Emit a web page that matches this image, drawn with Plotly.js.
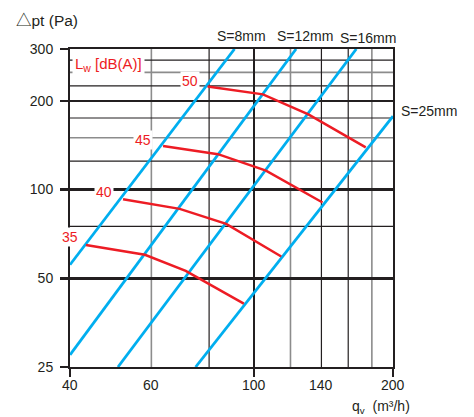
<!DOCTYPE html>
<html><head><meta charset="utf-8">
<script src="https://cdn.plot.ly/plotly-3.0.1.min.js"></script>
<style>html,body{margin:0;padding:0;background:#fff}#chart{width:474px;height:417px}</style>
</head><body><div id="chart"></div>
<script>
// ---- data ----
const xTickVals = [40, 60, 100, 140, 200];
const xTickText = ['40', '60', '100', '140', '200'];
const yTickVals = [25, 50, 100, 200, 300];
const yTickText = ['25', '50', '100', '200', '300'];
const xMajor = [40, 100, 200];
const xGridDark = [80, 140, 160];
const xGridGray = [60, 120, 180];
const yGridDark = [75, 125, 175, 225, 275];
const yGridGray = [150, 250];

// blade setting lines S (Δpt vs qv)
const sLabels = ['S=8mm', 'S=12mm', 'S=16mm', 'S=25mm'];
const s8Q = [40, 90.8],   s8P = [55.6, 300];
const s12Q = [40, 123.4], s12P = [27.5, 300];
const s16Q = [50.8, 166.6], s16P = [25, 300];
const s25Q = [74.8, 200], s25P = [25, 177.5];

// sound power level curves Lw [dB(A)]
const lwLabels = ['35', '40', '45', '50'];
const lw35Q = [43.3, 58.1, 71.2, 95.1],   lw35P = [64.9, 60.1, 53.0, 41.0];
const lw40Q = [52.1, 69.1, 87.1, 114.6],  lw40P = [92.7, 86.0, 76.5, 59.3];
const lw45Q = [63.6, 83.6, 106.2, 140.8], lw45P = [140.6, 131.9, 116, 90.4];
const lw50Q = [79.4, 104.6, 131.2, 174.6], lw50P = [224, 210.5, 180, 139];

// ---- build chart ----
const BLUE = '#00aeef', RED = '#ed1c24', INK = '#231f20', GRAY = '#8c8c8c';
const FONT = 'Liberation Sans, Arial, Noto Sans CJK SC, sans-serif';

const sSeries = [[s8Q, s8P], [s12Q, s12P], [s16Q, s16P], [s25Q, s25P]];
const lwSeries = [[lw35Q, lw35P], [lw40Q, lw40P], [lw45Q, lw45P], [lw50Q, lw50P]];

const traces = [];
sSeries.forEach((s, i) => traces.push({
  x: s[0], y: s[1], name: sLabels[i], type: 'scatter', mode: 'lines',
  line: {color: BLUE, width: 2.8}, hoverinfo: 'skip'
}));
lwSeries.forEach((s, i) => traces.push({
  x: s[0], y: s[1], name: lwLabels[i] + ' dB(A)', type: 'scatter', mode: 'lines',
  line: {color: RED, width: 2.5}, hoverinfo: 'skip'
}));

const shapes = [];
function vline(v, color, w) {
  shapes.push({type: 'line', xref: 'x', yref: 'paper', x0: v, x1: v, y0: 0, y1: 1,
    line: {color: color, width: w}, layer: 'below'});
}
function hline(v, color, w) {
  shapes.push({type: 'line', xref: 'paper', yref: 'y', x0: 0, x1: 1, y0: v, y1: v,
    line: {color: color, width: w}, layer: 'below'});
}
xGridGray.forEach(v => vline(v, GRAY, 1.6));
yGridGray.forEach(v => hline(v, GRAY, 1.6));
xGridDark.forEach(v => vline(v, INK, 1.2));
yGridDark.forEach(v => hline(v, INK, 1.2));

const annotations = [];
function note(text, x, y, opts) {
  annotations.push(Object.assign({text: text, x: x, y: y, xref: 'paper', yref: 'paper',
    xanchor: 'center', yanchor: 'middle',
    showarrow: false, font: {family: FONT, size: 14, color: INK}}, opts || {}));
}
xTickVals.forEach((v, i) => annotations.push({text: xTickText[i], xref: 'x', yref: 'paper',
  x: Math.log10(v), y: 0, xanchor: 'center', yanchor: 'middle', yshift: -18, showarrow: false,
  font: {family: FONT, size: 14, color: INK}}));

note(sLabels[0], 0.5325, 1.041);
note(sLabels[1], 0.7276, 1.041);
note(sLabels[2], 0.924, 1.036);
note(sLabels[3], 1.0186, 0.805, {xanchor: 'left'});
note('△pt (Pa)', -0.172, 1.09, {xanchor: 'left', font: {family: FONT, size: 15.5, color: INK}});
note('q<sub>v</sub>  (m³/h)', 0.8669, -0.1258, {xanchor: 'left'});

note('L<sub>w</sub> [dB(A)]', 0.0062, 0.9497,
  {xanchor: 'left', bgcolor: '#ffffff', borderpad: 2, font: {family: FONT, size: 15, color: RED}});
const lwPos = [[0.0015, 0.4088], [0.1068, 0.5503], [0.2245, 0.7138], [0.3715, 0.8994]];
lwLabels.forEach((t, i) => note(t, lwPos[i][0], lwPos[i][1],
  {bgcolor: '#ffffff', borderpad: 1, font: {family: FONT, size: 14, color: RED}}));

const axisCommon = {
  type: 'log', showline: true, mirror: true, linewidth: 2, linecolor: INK,
  showgrid: true, gridcolor: INK, gridwidth: 2.6, zeroline: false,
  ticks: 'outside', ticklen: 8, tickwidth: 2.6, tickcolor: INK,
  tickfont: {family: FONT, size: 14, color: INK}, fixedrange: true
};

const layout = {
  width: 474, height: 417,
  margin: {l: 70, r: 81, t: 49, b: 50},
  paper_bgcolor: '#ffffff', plot_bgcolor: '#ffffff',
  showlegend: false,
  xaxis: Object.assign({}, axisCommon, {
    range: [Math.log10(40), Math.log10(200)],
    tickmode: 'array', tickvals: xMajor, showticklabels: false
  }),
  yaxis: Object.assign({}, axisCommon, {
    range: [Math.log10(25), Math.log10(300)],
    tickmode: 'array', tickvals: yTickVals, ticktext: yTickText, ticklabelstandoff: 4
  }),
  shapes: shapes,
  annotations: annotations,
  font: {family: FONT, color: INK}
};

Plotly.newPlot('chart', traces, layout, {staticPlot: true, displayModeBar: false});
</script>
</body></html>
